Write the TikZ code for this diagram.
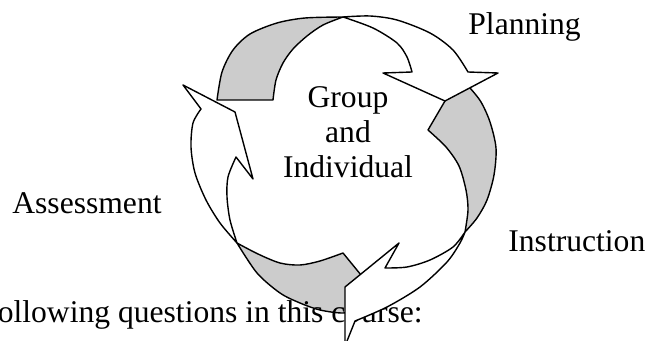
\documentclass[tikz,border=0pt]{standalone}
\usepackage{fontspec}
\setmainfont{Liberation Serif}
\newcommand\lblfont{\fontsize{15.8}{17.5}\selectfont}
\begin{document}
\begin{tikzpicture}[x=.5pt,y=-.5pt,
		backside/.style={draw, fill=black!20, line width=.7pt, line join=round},
		frontside/.style={draw, fill=white, line width=.7pt, line join=round},
		lbl/.style={inner sep=0pt, font=\lblfont}]
		\useasboundingbox (0,0) rectangle (647,341);
		\clip (0,0) rectangle (647,341);
		% grey (back) halves
		\filldraw[backside] plot[smooth] coordinates {(217,100) (222,72) (233,50) (250,34) (277,23) (305,18) (343,17)}
			-- plot[smooth] coordinates {(343,17) (323,25) (307,36) (293,49) (283,63) (276,80) (273,100)} -- cycle;
		\filldraw[backside] (428,130) -- plot[smooth] coordinates {(459,77) (470,88) (481,102) (490,122) (496,148) (494,175) (487,200) (477,218) (465,232)}
			-- plot[smooth] coordinates {(465,232) (468,210) (466,190) (459,166) (446,147) (428,130)} -- cycle;
		\filldraw[backside] plot[smooth] coordinates {(343,253) (320,261) (300,265) (280,263) (258,254) (237,243)}
			-- plot[smooth] coordinates {(237,243) (257,273) (280,293) (300,303) (320,310) (343,313) (362,309) (379,297)} -- cycle;
		% labels
		\node[lbl, anchor=base west] (planning) at (468,35) {Planning};
		\node[lbl, anchor=base east] (assess) at (162,214) {Assessment};
		\node[lbl, anchor=base west] (instr) at (508,252) {Instruction};
		\node[lbl, anchor=base] (grp) at (348,108) {Group};
		\node[lbl, anchor=base] (andw) at (348,143) {and};
		\node[lbl, anchor=base] (indiv) at (348,178) {Individual};
		\node[lbl, anchor=base east] (course) at (423,322) {ollowing questions in this course:};
		% white (front) halves with heads
		\filldraw[frontside] plot[smooth] coordinates {(343,17) (370,16) (397,20) (430,33) (453,50) (468,72)}
			-- (498,73) -- (445,101) -- (383,73)
			-- plot[smooth] coordinates {(412,72) (407,57) (397,43) (373,28) (343,17)} -- cycle;
		\filldraw[frontside] plot[smooth] coordinates {(465,232) (460,243) (447,262) (420,287) (387,307) (355,321)}
			-- (345,346) -- (345,287) -- (399,243)
			-- plot[smooth] coordinates {(385,268) (407,267) (430,260) (453,247) (465,232)} -- cycle;
		\filldraw[frontside] plot[smooth] coordinates {(237,243) (220,223) (206,200) (195,173) (191,147) (193,123) (201,109)}
			-- (183,85) -- (235,112) -- (253,179)
			-- plot[smooth] coordinates {(236,157) (228,177) (227,197) (230,220) (237,243)} -- cycle;
	\end{tikzpicture}
\end{document}
